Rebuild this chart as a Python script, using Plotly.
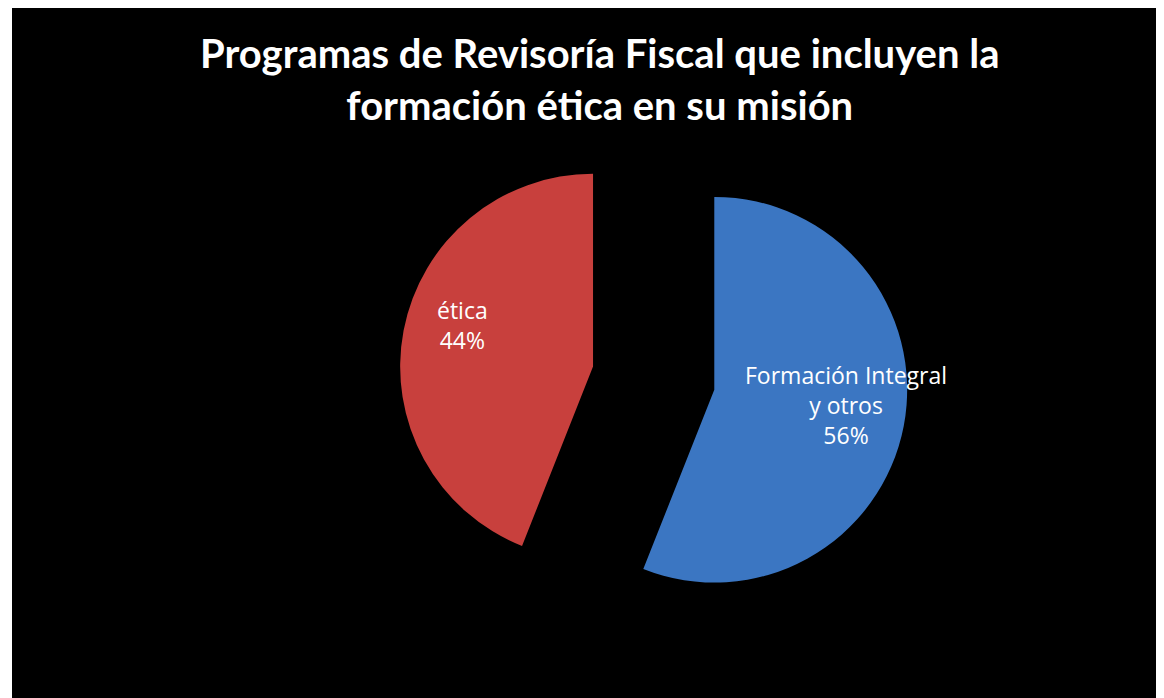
import plotly.graph_objects as go

title_lines = ["Programas de Revisoría Fiscal que incluyen la",
               "formación ética en su misión"]
labels = ["Formación Integral y otros", "ética"]
display_labels = ["Formación Integral<br>y otros", "ética"]
values = [56, 44]
colors = ["#3B76C2", "#C8403D"]
pulls = [0.32, 0.32]

total = sum(values)
pct = [f"{round(v / total * 100)}%" for v in values]

fig = go.Figure()

fig.add_trace(go.Pie(
    labels=labels,
    values=values,
    sort=False,
    direction="clockwise",
    rotation=0,
    pull=pulls,
    marker=dict(colors=colors, line=dict(width=0)),
    textinfo="none",
    hoverinfo="label+percent",
    showlegend=False,
    domain=dict(x=[0.336, 0.778], y=[0.094, 0.833]),
))

# data labels placed like the original
label_pos = [(0.724, 0.424), (0.391, 0.540)]
for txt, p, (lx, ly) in zip(display_labels, pct, label_pos):
    fig.add_annotation(
        text=f"{txt}<br>{p}", x=lx, y=ly, xref="paper", yref="paper",
        xanchor="center", yanchor="middle",
        showarrow=False, font=dict(family="Open Sans", size=23, color="white"),
        align="center",
    )

# title as an annotation (two lines, bold)
fig.add_annotation(
    text="<b>" + "<br>".join(title_lines) + "</b>",
    x=0.51, y=0.897, xref="paper", yref="paper",
    xanchor="center", yanchor="middle", showarrow=False, align="center",
    font=dict(family="Lato", size=40, color="white"),
)

# page body has an 8px margin, so the figure is a bit smaller than the window
fig.update_layout(
    width=1156,
    height=690,
    margin=dict(l=4, r=0, t=0, b=0),
    paper_bgcolor="white",
    plot_bgcolor="black",
    shapes=[dict(type="rect", xref="paper", yref="paper", x0=0, x1=1, y0=0, y1=1,
                 fillcolor="black", line=dict(width=0), layer="below")],
)

fig.write_html("out.html")
